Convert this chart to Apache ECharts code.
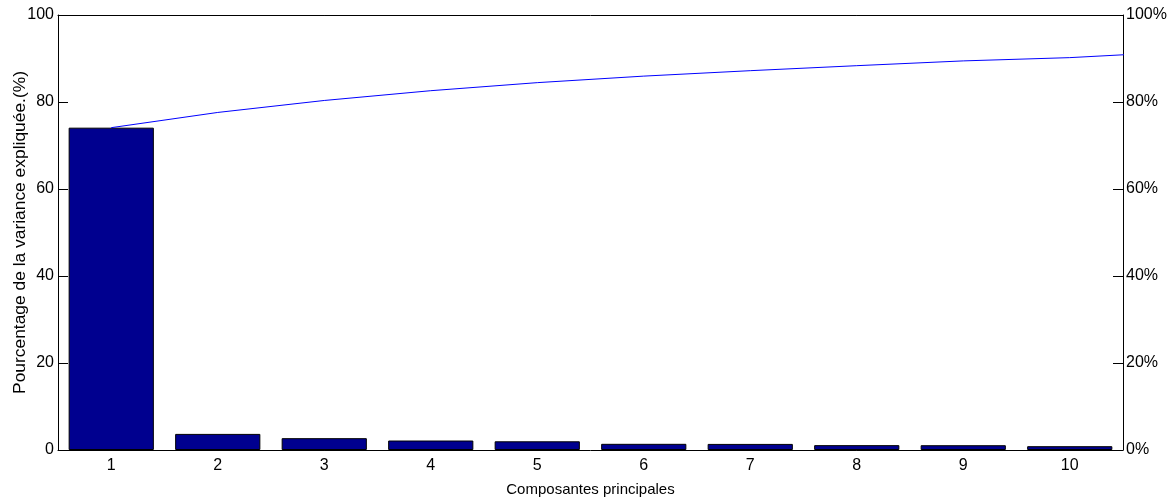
<!DOCTYPE html>
<html><head><meta charset="utf-8">
<script src="https://cdn.jsdelivr.net/npm/echarts@6/dist/echarts.min.js"></script>
<style>html,body{margin:0;padding:0;background:#fff}#c{width:1172px;height:499px}</style>
</head><body><div id="c"></div>
<script>
// Data
const categories = ['1', '2', '3', '4', '5', '6', '7', '8', '9', '10'];
const varianceExplained = [74.1, 3.7, 2.72, 2.18, 2.0, 1.42, 1.4, 1.12, 1.1, 0.88];
// cumulative curve (continues past component 10 and is clipped at the frame)
const cumulativePercent = [74.1, 77.6, 80.35, 82.6, 84.45, 85.95, 87.2, 88.35, 89.45, 90.2, 91.5];
const componentIndex = [1, 2, 3, 4, 5, 6, 7, 8, 9, 10, 11];
const yAxisTitle = 'Pourcentage de la variance expliquée.(%)';
const xAxisTitle = 'Composantes principales';

const FONT = "'Liberation Sans Narrow', 'Liberation Sans', Arial, sans-serif";
const ink = '#000';

const chart = echarts.init(document.getElementById('c'), null, {renderer: 'canvas'});
chart.setOption({
  animation: false,
  backgroundColor: '#fff',
  grid: {left: 58, right: 49, top: 15, bottom: 49, containLabel: false, outerBoundsMode: 'none'},
  xAxis: [
    {
      type: 'category', data: categories, position: 'bottom', boundaryGap: true,
      axisLine: {lineStyle: {color: ink, width: 1}},
      axisTick: {inside: true, alignWithLabel: true, length: 13, lineStyle: {color: ink}},
      axisLabel: {color: ink, fontSize: 16, margin: 8, fontFamily: FONT},
      splitLine: {show: false},
      name: xAxisTitle, nameLocation: 'middle', nameGap: 32, nameMoveOverlap: false,
      nameTextStyle: {color: ink, fontSize: 15, fontFamily: FONT}
    },
    {type: 'value', min: 0.5, max: 10.5, show: false},
    {
      type: 'category', data: categories, position: 'top', boundaryGap: true,
      axisLine: {lineStyle: {color: ink, width: 1}},
      axisTick: {inside: true, alignWithLabel: true, length: 13, lineStyle: {color: ink}},
      axisLabel: {show: false}, splitLine: {show: false}
    }
  ],
  yAxis: [
    {
      type: 'value', min: 0, max: 100, interval: 20, position: 'left',
      axisLine: {show: true, lineStyle: {color: ink, width: 1}},
      axisTick: {show: true, inside: true, length: 10, lineStyle: {color: ink}},
      axisLabel: {color: ink, fontSize: 16, margin: 4, fontFamily: FONT},
      splitLine: {show: false},
      name: yAxisTitle, nameLocation: 'middle', nameGap: 29, nameRotate: 90, nameMoveOverlap: false,
      nameTextStyle: {color: ink, fontSize: 17.4, fontFamily: FONT}
    },
    {
      type: 'value', min: 0, max: 100, interval: 20, position: 'right',
      axisLine: {show: true, lineStyle: {color: ink, width: 1}},
      axisTick: {show: true, inside: true, length: 10, lineStyle: {color: ink}},
      axisLabel: {color: ink, fontSize: 16, margin: 3, fontFamily: FONT, formatter: '{value}%'},
      splitLine: {show: false}
    }
  ],
  series: [
    {
      type: 'bar', xAxisIndex: 0, yAxisIndex: 0, data: varianceExplained,
      barWidth: '80%',
      itemStyle: {color: '#00008F', borderColor: '#000', borderWidth: 1}
    },
    {
      type: 'line', xAxisIndex: 1, yAxisIndex: 1, clip: true,
      data: componentIndex.map((x, i) => [x, cumulativePercent[i]]),
      symbol: 'none', smooth: false,
      lineStyle: {color: '#0000FF', width: 1}
    }
  ]
});
</script></body></html>
